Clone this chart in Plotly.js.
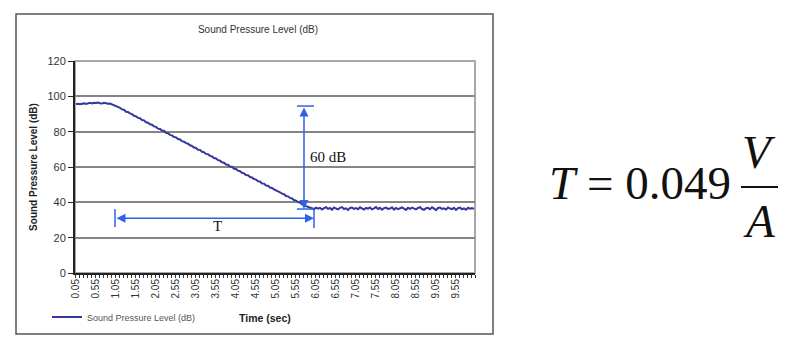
<!DOCTYPE html>
<html>
<head>
<meta charset="utf-8">
<script src="https://cdn.plot.ly/plotly-3.0.1.min.js"></script>
<style>
  html, body { margin: 0; padding: 0; background: #ffffff; }
  #chart { width: 806px; height: 355px; }
</style>
</head>
<body>
<div id="chart"></div>
<script>
// Sound pressure level (dB), sampled every 0.05 s from 0.05 s to 10.00 s
const splPlateau = [95.6, 95.8, 95.5, 95.9, 96.0, 95.7, 96.1, 96.3, 96.0, 96.4,
                    96.2, 96.5, 96.1, 95.9, 96.3, 96.0, 95.8, 95.9, 95.4, 95.1];
const splDecay = [94.8, 94.0, 93.5, 92.6, 92.4, 91.3, 91.1, 90.3, 89.9, 89.0,
                  88.7, 87.8, 87.6, 86.6, 86.4, 85.3, 85.1, 84.2, 83.9,
                  83.0, 82.7, 81.7, 81.5, 80.6, 80.5, 79.3, 79.1, 78.2, 77.9,
                  77.0, 76.8, 75.8, 75.6, 74.6, 74.3, 73.5, 73.2, 72.3, 71.9,
                  71.0, 70.8, 69.8, 69.7, 68.6, 68.4, 67.4, 67.2, 66.3, 66.0,
                  65.1, 64.8, 63.9, 63.6, 62.7, 62.4, 61.4, 61.3, 60.2, 60.1,
                  59.0, 58.9, 57.9, 57.6, 56.7, 56.4, 55.5, 55.3, 54.3, 54.1,
                  53.2, 52.9, 51.9, 51.8, 50.7, 50.6, 49.5, 49.4, 48.4, 48.1,
                  47.3, 46.9, 46.1, 45.7, 44.9, 44.6, 43.6, 43.4, 42.5, 42.2,
                  41.3, 41.0, 40.1, 39.9, 38.9, 38.7, 37.8, 37.5, 36.9];
const splFloor = [36.6, 36.2, 37.0, 36.4, 36.9, 35.9, 36.7, 37.2, 36.3, 36.8,
                  35.8, 37.1, 36.5, 36.0, 36.9, 37.3, 36.2, 36.6, 35.7, 36.8,
                  37.0, 36.3, 36.7, 36.1, 37.2, 36.5, 35.9, 36.8, 36.4, 37.1,
                  36.0, 36.6, 37.3, 36.2, 36.9, 35.8, 36.7, 37.0, 36.3, 36.5,
                  37.2, 35.9, 36.8, 36.1, 36.6, 37.1, 36.4, 35.7, 36.9, 36.3,
                  37.0, 36.5, 36.0, 36.8, 37.3, 36.2, 35.8, 36.7, 36.9, 36.1,
                  37.2, 36.4, 35.6, 36.8, 37.0, 36.3, 36.6, 35.9, 37.1, 36.5,
                  36.2, 36.9, 35.7, 36.7, 37.0, 36.1, 36.6, 35.8, 36.9, 36.4,
                  36.7, 36.3];
const splValues = splPlateau.concat(splDecay, splFloor);
const timeSec = splValues.map((_, i) => +((i + 1) * 0.05).toFixed(2));

const tickVals = [0.05, 0.55, 1.05, 1.55, 2.05, 2.55, 3.05, 3.55, 4.05, 4.55,
                  5.05, 5.55, 6.05, 6.55, 7.05, 7.55, 8.05, 8.55, 9.05, 9.55];
const tickText = ["0.05", "0.55", "1.05", "1.55", "2.05", "2.55", "3.05", "3.55", "4.05", "4.55",
                  "5.05", "5.55", "6.05", "6.55", "7.05", "7.55", "8.05", "8.55", "9.05", "9.55"];
const yTicks = [0, 20, 40, 60, 80, 100, 120];

// Reverberation-time markers (data coordinates)
const levelTop = 94.5, levelBottom = 36.2, levelX = 5.75;
const tStart = 1.025, tEnd = 6.0, tY = 31.0;

const arrowColor = '#2f62e8';
const serif = '"Liberation Serif", "Times New Roman", serif';
const sans = 'Arial, "Liberation Sans", sans-serif';

const trace = {
  x: timeSec, y: splValues, type: 'scatter', mode: 'lines',
  name: 'Sound Pressure Level (dB)',
  line: { color: '#35359e', width: 2 }
};

const layout = {
  width: 806, height: 355,
  margin: { l: 75, r: 331, t: 61, b: 82 },
  paper_bgcolor: '#ffffff', plot_bgcolor: '#ffffff',
  title: {
    text: 'Sound Pressure Level (dB)',
    x: 0.4575, xref: 'paper', xanchor: 'center',
    y: 1 - 29 / 355, yref: 'container', yanchor: 'middle',
    font: { family: sans, size: 10, color: '#333' }
  },
  showlegend: true,
  legend: {
    x: -0.07, y: -0.2075, xanchor: 'left', yanchor: 'middle',
    bgcolor: 'rgba(0,0,0,0)', font: { family: sans, size: 9, color: '#555' },
    itemwidth: 30
  },
  xaxis: {
    range: [0.025, 10.025], tickmode: 'array', tickvals: tickVals, ticktext: tickText,
    tickangle: -90, ticks: '', showgrid: false, zeroline: false,
    showline: true, linecolor: '#222', linewidth: 2,
    tickfont: { family: sans, size: 10, color: '#333' },
    minor: { tickmode: 'linear', tick0: 0.025, dtick: 0.1, ticks: 'outside', ticklen: 3, tickcolor: '#333', tickwidth: 1, showgrid: false },
    fixedrange: true
  },
  yaxis: {
    range: [0, 120], tickmode: 'array', tickvals: yTicks,
    ticks: 'outside', ticklen: 5, tickcolor: '#222', tickwidth: 1,
    showgrid: true, gridcolor: '#858585', gridwidth: 2, zeroline: false,
    showline: true, linecolor: '#222', linewidth: 2,
    tickfont: { family: sans, size: 11, color: '#333' },
    title: { text: '<b>Sound Pressure Level (dB)</b>', standoff: 8, font: { family: sans, size: 10, color: '#222' } },
    fixedrange: true
  },
  shapes: [
    // outer chart frame
    { type: 'rect', xref: 'paper', yref: 'paper', x0: -0.1475, x1: 1.045, y0: -0.2877, y1: 1.2217,
      line: { color: '#555', width: 1.5 }, layer: 'below' },
    // plot area border
    { type: 'rect', xref: 'paper', yref: 'paper', x0: 0, x1: 1, y0: 0, y1: 1,
      line: { color: '#a8a8a8', width: 2 }, layer: 'below' },
    // caps of the 60 dB arrow
    { type: 'line', xref: 'x', yref: 'y', x0: 5.575, x1: 6.0, y0: levelTop, y1: levelTop, line: { color: arrowColor, width: 1.5 } },
    { type: 'line', xref: 'x', yref: 'y', x0: 5.575, x1: 6.0, y0: levelBottom, y1: levelBottom, line: { color: arrowColor, width: 1.5 } },
    // caps of the T arrow
    { type: 'line', xref: 'x', yref: 'y', x0: tStart, x1: tStart, y0: 26.0, y1: 36.2, line: { color: arrowColor, width: 1.5 } },
    { type: 'line', xref: 'x', yref: 'y', x0: tEnd, x1: tEnd, y0: 25.5, y1: 35.7, line: { color: arrowColor, width: 1.5 } },
    // fraction bar of the formula
    { type: 'line', xref: 'paper', yref: 'paper', x0: 1.665, x1: 1.7575, y0: 0.4057, y1: 0.4057, line: { color: '#111', width: 2 } }
  ],
  annotations: [
    { x: levelX, y: levelBottom, ax: levelX, ay: levelTop, xref: 'x', yref: 'y', axref: 'x', ayref: 'y',
      text: '', showarrow: true, arrowhead: 2, startarrowhead: 2, arrowside: 'end+start',
      arrowsize: 1.2, startarrowsize: 1.2, arrowwidth: 1.5, arrowcolor: arrowColor, standoff: 0, startstandoff: 0 },
    { x: tEnd, y: tY, ax: tStart, ay: tY, xref: 'x', yref: 'y', axref: 'x', ayref: 'y',
      text: '', showarrow: true, arrowhead: 2, startarrowhead: 2, arrowside: 'end+start',
      arrowsize: 1.2, startarrowsize: 1.2, arrowwidth: 1.5, arrowcolor: arrowColor, standoff: 0, startstandoff: 0 },
    { x: 5.85, y: 65.6, xref: 'x', yref: 'y', xanchor: 'left', yanchor: 'middle', showarrow: false,
      text: '60 dB', font: { family: serif, size: 15, color: '#111' } },
    { x: 3.575, y: 26.6, xref: 'x', yref: 'y', xanchor: 'center', yanchor: 'middle', showarrow: false,
      text: 'T', font: { family: serif, size: 15, color: '#111' } },
    { x: 0.474, y: -0.2123, xref: 'paper', yref: 'paper', xanchor: 'center', yanchor: 'middle', showarrow: false,
      text: '<b>Time (sec)</b>', font: { family: sans, size: 10.5, color: '#222' } },
    // formula T = 0.049 V/A
    { x: 1.18, y: 0.4245, xref: 'paper', yref: 'paper', xanchor: 'left', yanchor: 'middle', showarrow: false,
      text: '<i>T</i> = 0.049', font: { family: serif, size: 47, color: '#111' } },
    { x: 1.711, y: 0.5708, xref: 'paper', yref: 'paper', xanchor: 'center', yanchor: 'middle', showarrow: false,
      text: '<i>V</i>', font: { family: serif, size: 47, color: '#111' } },
    { x: 1.711, y: 0.2453, xref: 'paper', yref: 'paper', xanchor: 'center', yanchor: 'middle', showarrow: false,
      text: '<i>A</i>', font: { family: serif, size: 47, color: '#111' } }
  ]
};

Plotly.newPlot('chart', [trace], layout, { staticPlot: true, displayModeBar: false });
</script>
</body>
</html>
